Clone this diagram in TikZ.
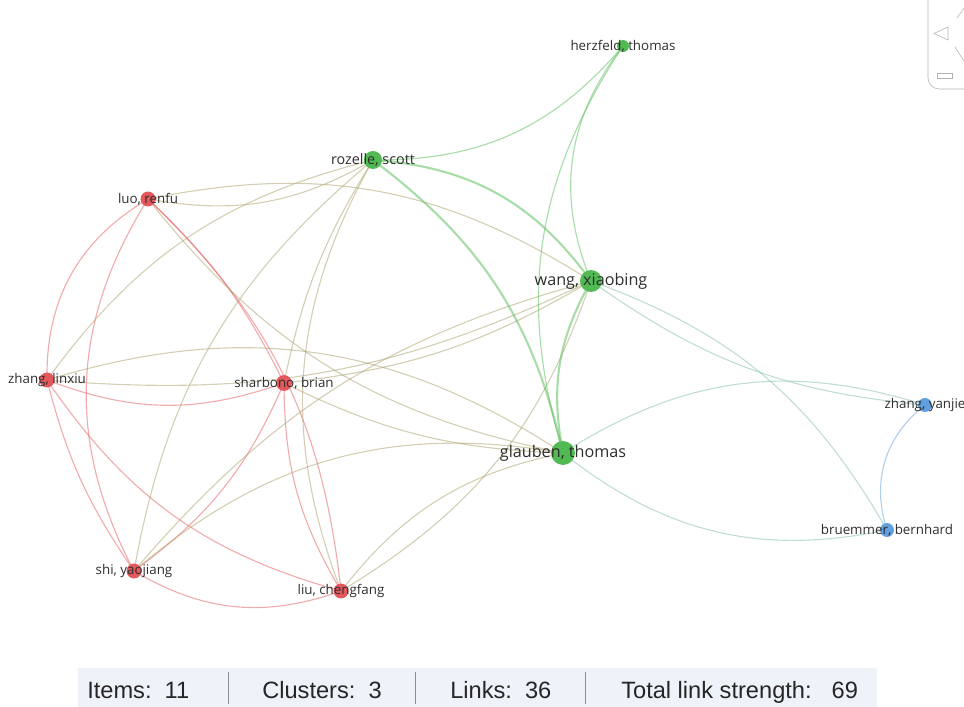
\documentclass[tikz,border=0pt]{standalone}
\usepackage{fontspec}
\setmainfont{Open Sans}
\newfontfamily\barfont{Liberation Sans}
\usetikzlibrary{positioning}
\definecolor{redc}{RGB}{228,88,92}
\definecolor{greenc}{RGB}{82,186,82}
\definecolor{bluec}{RGB}{96,160,222}
\definecolor{mixc}{RGB}{170,160,105}
\definecolor{bgreenc}{RGB}{130,190,170}
\definecolor{barc}{RGB}{238,243,249}
\tikzset{
  item/.style={circle, inner sep=0pt, minimum size=#1},
  reditem/.style={item=#1, fill=redc},
  greenitem/.style={item=#1, fill=greenc},
  blueitem/.style={item=#1, fill=bluec},
  link/.style={line width=0.8pt, draw opacity=0.5},
  redlink/.style={link, draw=redc},
  greenlink/.style={link, draw=greenc},
  mixlink/.style={link, draw=mixc},
  bgreenlink/.style={link, draw=bgreenc},
  bluelink/.style={link, draw=bluec},
  lbl/.style={text=black!82, inner sep=0pt, font=\fontsize{9.5}{9.5}\selectfont},
  biglbl/.style={lbl, font=\fontsize{11.5}{11.5}\selectfont},
  midlbl/.style={lbl, font=\fontsize{10.2}{10.2}\selectfont},
  barlbl/.style={inner sep=0pt, anchor=base west, text=black!85, font=\barfont\fontsize{16.8}{16.8}\selectfont},
}

\begin{document}
\begin{tikzpicture}[x=0.025cm, y=-0.025cm]
      \useasboundingbox (0,0) rectangle (964,707);

      \coordinate (herzfeld) at (623,46);
      \coordinate (rozelle) at (373,160);
      \coordinate (luo) at (148,199);
      \coordinate (wang) at (591,281);
      \coordinate (zl) at (47,380);
      \coordinate (sharbono) at (284,383);
      \coordinate (glauben) at (563,453);
      \coordinate (zy) at (925,405);
      \coordinate (br) at (887,530);
      \coordinate (shi) at (134,571);
      \coordinate (liu) at (341,591);

      \foreach \a/\b/\t in {luo/zl/-30, luo/shi/-30, luo/sharbono/10, luo/liu/20,
          zl/shi/-10, zl/sharbono/-20, zl/liu/-20, shi/sharbono/-15,
          shi/liu/-25, sharbono/liu/-15}{
          \draw[redlink] (\a) to[bend left=\t] (\b);
        }
      \foreach \a/\b/\t in {luo/rozelle/-20, luo/wang/22, luo/glauben/-20,
          zl/rozelle/20, zl/wang/-15, zl/glauben/25, sharbono/rozelle/10,
          sharbono/wang/-12, sharbono/glauben/-12, shi/rozelle/20, shi/wang/17,
          shi/glauben/25, liu/rozelle/25, liu/wang/-20, liu/glauben/20}{
          \draw[mixlink] (\a) to[bend left=\t] (\b);
        }
      \foreach \a/\b/\t in {rozelle/herzfeld/-25, herzfeld/wang/-30, herzfeld/glauben/-25}{
          \draw[greenlink] (\a) to[bend left=\t] (\b);
        }
      \foreach \a/\b/\t in {rozelle/wang/25, rozelle/glauben/20, wang/glauben/-20}{
          \draw[greenlink, line width=1.5pt] (\a) to[bend left=\t] (\b);
        }
      \foreach \a/\b/\t in {wang/zy/-15, wang/br/20, glauben/zy/25, glauben/br/-25}{
          \draw[bgreenlink] (\a) to[bend left=\t] (\b);
        }
      \draw[bluelink] (zy) to[bend left=-35] (br);

      \node[greenitem=8.5pt] (herzfeld-dot) at (herzfeld) {};
      \node[greenitem=12.8pt] (rozelle-dot) at (rozelle) {};
      \node[reditem=10.6pt] (luo-dot) at (luo) {};
      \node[greenitem=15.6pt] (wang-dot) at (wang) {};
      \node[reditem=10.6pt] (zl-dot) at (zl) {};
      \node[reditem=11.3pt] (sharbono-dot) at (sharbono) {};
      \node[greenitem=17pt] (glauben-dot) at (glauben) {};
      \node[blueitem=9.9pt] (zy-dot) at (zy) {};
      \node[blueitem=9.9pt] (br-dot) at (br) {};
      \node[reditem=10.6pt] (shi-dot) at (shi) {};
      \node[reditem=10.6pt] (liu-dot) at (liu) {};

      \node[lbl] (herzfeld-lbl) at (herzfeld) {herzfeld, thomas};
      \node[midlbl] (rozelle-lbl) at (rozelle) {rozelle, scott};
      \node[lbl] (luo-lbl) at (luo) {luo, renfu};
      \node[biglbl] (wang-lbl) at (wang) {wang, xiaobing};
      \node[lbl] (zl-lbl) at (zl) {zhang, linxiu};
      \node[lbl] (sharbono-lbl) at (sharbono) {sharbono, brian};
      \node[biglbl] (glauben-lbl) at (glauben) {glauben, thomas};
      \node[lbl] (zy-lbl) at (zy) {zhang, yanjie};
      \node[lbl] (br-lbl) at (br) {bruemmer, bernhard};
      \node[lbl] (shi-lbl) at (shi) {shi, yaojiang};
      \node[lbl] (liu-lbl) at (liu) {liu, chengfang};

      \draw[black!30, rounded corners=8] (928,-20) rectangle (990,89);
      \draw[black!30] (948,27) -- (934,33.5) -- (948,40) -- cycle;
      \draw[black!30] (957,18) -- (964,8);
      \draw[black!30] (955,47) -- (964,61);
      \draw[black!30] (937,73) rectangle (952,78);

      \fill[barc] (78,668) rectangle (877,707);
      \foreach \x in {228,415,585}{
          \draw[black!45] (\x,672) -- (\x,704);
        }
      \node[barlbl] (items) at (87,698) {Items:\ \ 11};
      \node[barlbl] (clusters) at (262,698) {Clusters:\ \ 3};
      \node[barlbl] (links) at (450,698) {Links:\ \ 36};
      \node[barlbl] (strength) at (621,698) {Total link strength:\hspace{0.85em}69};
    \end{tikzpicture}
\end{document}
